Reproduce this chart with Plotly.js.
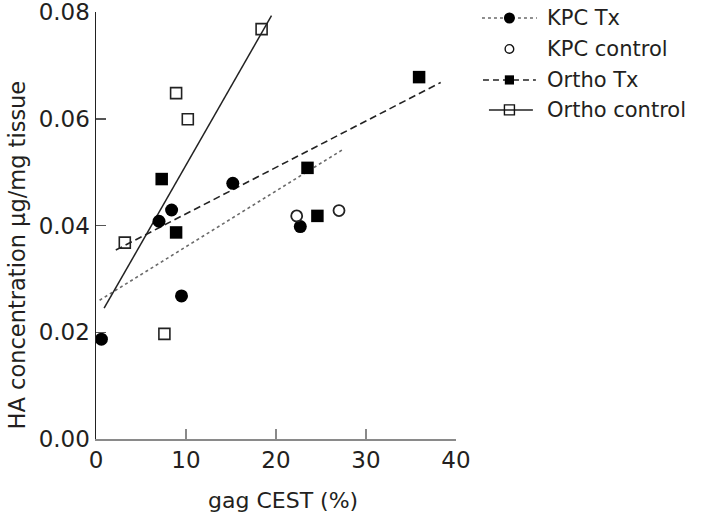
<!DOCTYPE html>
<html>
<head>
<meta charset="utf-8">
<script src="https://cdn.plot.ly/plotly-3.0.1.min.js"></script>
<style>
html,body{margin:0;padding:0;background:#fff;}
#chart{width:711px;height:520px;}
</style>
</head>
<body>
<div id="chart"></div>
<script>
// Data
var seriesNames = ["KPC Tx", "KPC control", "Ortho Tx", "Ortho control"];

var kpcTxX = [0.6, 7.0, 8.4, 9.5, 15.2, 22.7];
var kpcTxY = [0.0187, 0.0408, 0.0429, 0.0268, 0.0479, 0.0398];

var kpcCtrlX = [22.3, 27.0];
var kpcCtrlY = [0.0418, 0.0428];

var orthoTxX = [7.3, 8.9, 23.5, 24.6, 35.9];
var orthoTxY = [0.0487, 0.0387, 0.0508, 0.0418, 0.0678];

var orthoCtrlX = [3.2, 7.6, 8.9, 10.2, 18.4];
var orthoCtrlY = [0.0368, 0.0197, 0.0648, 0.0599, 0.0768];

// Regression lines (end points as drawn)
var kpcTxFitX = [0.4, 27.5];
var kpcTxFitY = [0.0260, 0.0543];
var orthoTxFitX = [2.2, 38.3];
var orthoTxFitY = [0.0354, 0.0668];
var orthoCtrlFitX = [0.9, 19.5];
var orthoCtrlFitY = [0.0245, 0.0793];

var xTicks = [0, 10, 20, 30, 40];
var yTicks = [0, 0.02, 0.04, 0.06, 0.08];

var xTitle = "gag CEST (%)";
var yTitle = "HA concentration µg/mg tissue";

var FONT = "DejaVu Sans, Verdana, sans-serif";
var TXT = "#231f20";

// plot area in pixels
var W = 711, H = 520;
var M = {l: 95.5, r: 255, t: 12, b: 80.6};
var PW = W - M.l - M.r, PH = H - M.t - M.b;
function px(p) { return (p - M.l) / PW; }
function py(p) { return (H - M.b - p) / PH; }

var styles = {
  kpcTx:   {line: {color: "#6a6a6a", width: 1.6, dash: "dot"}},
  orthoTx: {line: {color: "#222", width: 1.6, dash: "7px,4px"}},
  orthoCt: {line: {color: "#222", width: 1.5}}
};

var traces = [
  {x: kpcTxFitX, y: kpcTxFitY, mode: "lines", showlegend: false, hoverinfo: "skip", line: styles.kpcTx.line},
  {x: orthoTxFitX, y: orthoTxFitY, mode: "lines", showlegend: false, hoverinfo: "skip", line: styles.orthoTx.line},
  {x: orthoCtrlFitX, y: orthoCtrlFitY, mode: "lines", showlegend: false, hoverinfo: "skip", line: styles.orthoCt.line},
  {x: kpcTxX, y: kpcTxY, name: seriesNames[0], mode: "markers", showlegend: false,
   marker: {symbol: "circle", size: 13, color: "#000"}},
  {x: kpcCtrlX, y: kpcCtrlY, name: seriesNames[1], mode: "markers", showlegend: false,
   marker: {symbol: "circle-open", size: 11, color: "#222", line: {width: 1.8}}},
  {x: orthoTxX, y: orthoTxY, name: seriesNames[2], mode: "markers", showlegend: false,
   marker: {symbol: "square", size: 12.5, color: "#000"}},
  {x: orthoCtrlX, y: orthoCtrlY, name: seriesNames[3], mode: "markers", showlegend: false,
   marker: {symbol: "square-open", size: 11, color: "#222", line: {width: 1.6}}}
];

// custom legend (longer sample lines than Plotly's built-in legend)
var legRows = [18, 49, 80, 110];
var legItems = [
  {line: [482, 537], lstyle: styles.kpcTx.line, mk: {type: "circle", r: 5.5, fill: "#000", lw: 0}},
  {line: null, lstyle: null, mk: {type: "circle", r: 4.3, fill: "rgba(0,0,0,0)", lw: 1.4}},
  {line: [483, 536], lstyle: {color: "#222", width: 1.6, dash: "6px,4px"}, mk: {type: "rect", r: 4.6, fill: "#000", lw: 0}},
  {line: [489, 533], lstyle: styles.orthoCt.line, mk: {type: "rect", r: 5, fill: "rgba(0,0,0,0)", lw: 1.4}}
];
var markerX = 509.5;
var shapes = [], annotations = [];
legItems.forEach(function(it, i) {
  var yy = py(legRows[i]);
  if (it.line) {
    shapes.push({type: "line", xref: "paper", yref: "paper", layer: "above",
      x0: px(it.line[0]), x1: px(it.line[1]), y0: yy, y1: yy, line: it.lstyle});
  }
  shapes.push({type: it.mk.type, xref: "paper", yref: "paper", layer: "above",
    xsizemode: "pixel", ysizemode: "pixel", xanchor: px(markerX), yanchor: yy,
    x0: -it.mk.r, x1: it.mk.r, y0: -it.mk.r, y1: it.mk.r,
    fillcolor: it.mk.fill, line: {color: "#111", width: it.mk.lw}});
  annotations.push({xref: "paper", yref: "paper", x: px(545), y: yy,
    xanchor: "left", yanchor: "middle", showarrow: false, text: seriesNames[i],
    font: {family: FONT, size: 21, color: TXT}});
});
// axis titles placed as in the reference
annotations.push({xref: "paper", yref: "paper", x: px(283), y: py(501), xanchor: "center", yanchor: "middle",
  showarrow: false, text: xTitle, font: {family: FONT, size: 22, color: TXT}});
annotations.push({xref: "paper", yref: "paper", x: px(16), y: py(255), xanchor: "center", yanchor: "middle",
  textangle: -90, showarrow: false, text: yTitle, font: {family: FONT, size: 22.5, color: TXT}});

var layout = {
  width: W, height: H,
  paper_bgcolor: "#fff", plot_bgcolor: "#fff",
  margin: {l: M.l, r: M.r, t: M.t, b: M.b, pad: 0},
  font: {family: FONT, size: 23, color: TXT},
  showlegend: false,
  hovermode: false,
  xaxis: {
    range: [0, 40], tickvals: xTicks, ticktext: xTicks.map(String),
    showgrid: false, zeroline: false,
    showline: true, linecolor: "#8a8a8a", linewidth: 1.5,
    ticks: "inside", ticklen: 10, tickwidth: 1.5, tickcolor: "#8a8a8a",
    ticklabeloverflow: "allow",
    tickfont: {family: FONT, size: 23, color: TXT}
  },
  yaxis: {
    range: [0, 0.08], tickvals: yTicks, ticktext: yTicks.map(function(v){return v.toFixed(2);}),
    showgrid: false, zeroline: false,
    showline: true, linecolor: "#222", linewidth: 1.5,
    ticks: "inside", ticklen: 10, tickwidth: 1.5, tickcolor: "#555",
    ticklabeloverflow: "allow",
    tickfont: {family: FONT, size: 23, color: TXT}
  },
  shapes: shapes,
  annotations: annotations
};

Plotly.newPlot("chart", traces, layout, {displayModeBar: false, staticPlot: true});
</script>
</body>
</html>
